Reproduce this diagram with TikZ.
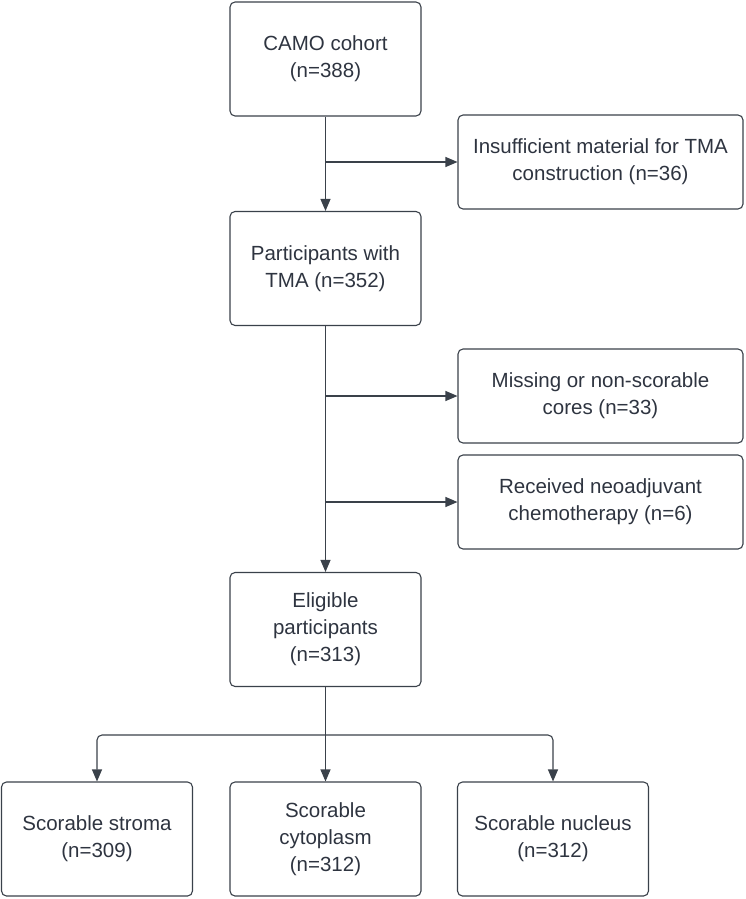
\documentclass[tikz,border=0pt]{standalone}
\usepackage{fontspec}
\setmainfont{Liberation Sans}
\usepackage{tikz}
\usetikzlibrary{arrows.meta}
\tikzset{>={Triangle[width=10pt,length=12pt]}}
\definecolor{linegray}{HTML}{3A414A}
\definecolor{textgray}{HTML}{2E3440}

\begin{document}
\begin{tikzpicture}[x=1pt, y=-1pt,
  box/.style={draw=linegray, line width=1.1pt, rounded corners=5pt,
    minimum width=191pt, minimum height=114pt, align=center,
    text=textgray, font=\fontsize{20.5}{27}\selectfont},
  sidebox/.style={box, minimum width=285pt, minimum height=94pt},
  flow/.style={->, draw=linegray, line width=1.1pt}]

  \useasboundingbox (0,0) rectangle (746,899);

  % main column
  \node[box] (camo) at (325.5, 59) {CAMO cohort\\(n=388)};
  \node[box] (part) at (325.5, 268.5) {Participants with\\TMA (n=352)};
  \node[box] (elig) at (325.5, 629.5) {Eligible\\participants\\(n=313)};

  % exclusions
  \node[sidebox] (insuf) at (600.5, 162) {Insufficient material for TMA\\construction (n=36)};
  \node[sidebox] (miss) at (600.5, 396) {Missing or non-scorable\\cores (n=33)};
  \node[sidebox] (recv) at (600.5, 502) {Received neoadjuvant\\chemotherapy (n=6)};

  % scorable compartments
  \node[box] (strom) at (97, 839) {Scorable stroma\\(n=309)};
  \node[box] (cyto) at (325.5, 839) {Scorable\\cytoplasm\\(n=312)};
  \node[box] (nucl) at (553, 839) {Scorable nucleus\\(n=312)};

  \coordinate (split) at (325.5, 735);

  \draw[flow] (camo) -- (part);
  \draw[flow] (camo.south |- insuf.west) -- (insuf.west); % excluded
  \draw[flow] (part) -- (elig);
  \draw[flow] (part.south |- miss.west) -- (miss.west);
  \draw[flow] (part.south |- recv.west) -- (recv.west);
  \draw[flow] (elig) -- (cyto);
  \draw[flow, rounded corners=5pt] (split) -| (strom);
  \draw[flow, rounded corners=5pt] (split) -| (nucl);

\end{tikzpicture}
\end{document}
